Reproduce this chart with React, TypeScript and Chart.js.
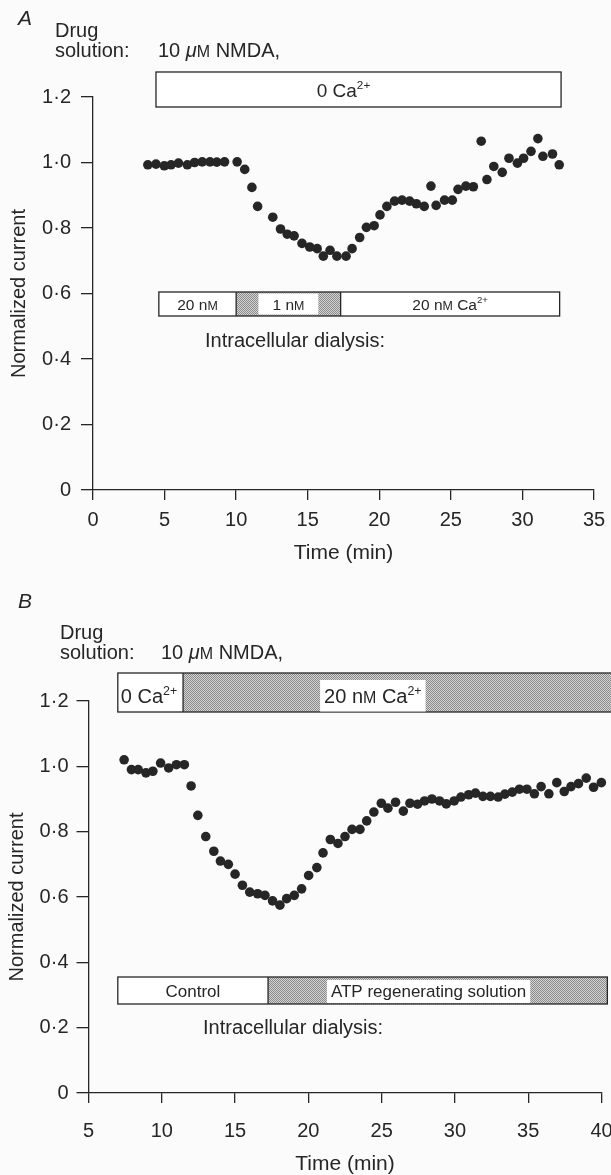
import React, { useEffect, useRef } from 'react';
import { Chart, registerables } from 'chart.js';

Chart.register(...registerables);

const FONT = '"Liberation Sans", Arial, Helvetica, sans-serif';
const INK = '#262626';
const BG = '#fbfbfb';
const W = 611;

// ---------- Panel A data ----------
const timeA = [3.83, 4.4, 4.98, 5.45, 5.97, 6.59, 7.1, 7.63, 8.17, 8.65, 9.19, 10.07, 10.6, 11.1, 11.5, 12.56, 13.1, 13.57, 14.05, 14.6, 15.14, 15.66, 16.09, 16.56, 17.04, 17.68, 18.1, 18.63, 19.1, 19.64, 20.05, 20.53, 21.07, 21.59, 22.12, 22.59, 23.14, 23.61, 23.97, 24.56, 25.1, 25.5, 26.05, 26.57, 27.12, 27.52, 28.0, 28.59, 29.06, 29.65, 30.08, 30.6, 31.08, 31.43, 32.1, 32.57];
const currentA = [0.993, 0.995, 0.99, 0.993, 0.998, 0.993, 1.0, 1.002, 1.002, 1.001, 1.002, 1.002, 0.979, 0.924, 0.866, 0.833, 0.797, 0.781, 0.776, 0.753, 0.742, 0.737, 0.714, 0.732, 0.714, 0.714, 0.737, 0.771, 0.802, 0.807, 0.84, 0.866, 0.882, 0.885, 0.882, 0.874, 0.866, 0.928, 0.869, 0.885, 0.885, 0.918, 0.928, 0.926, 1.065, 0.948, 0.988, 0.97, 1.013, 0.998, 1.013, 1.034, 1.073, 1.019, 1.026, 0.993];
const xTicksA = [0, 5, 10, 15, 20, 25, 30, 35];

// ---------- Panel B data ----------
const timeB = [7.43, 7.93, 8.39, 8.92, 9.39, 9.92, 10.47, 11.0, 11.54, 12.0, 12.46, 13.0, 13.55, 14.0, 14.54, 15.0, 15.5, 16.0, 16.54, 17.04, 17.56, 18.06, 18.52, 19.04, 19.54, 20.02, 20.58, 21.0, 21.5, 22.02, 22.5, 22.98, 23.52, 23.98, 24.47, 24.98, 25.43, 25.95, 26.48, 26.93, 27.45, 27.93, 28.43, 28.95, 29.41, 29.95, 30.41, 30.94, 31.4, 31.91, 32.42, 32.95, 33.41, 33.91, 34.4, 34.91, 35.42, 35.88, 36.41, 36.95, 37.46, 37.92, 38.43, 38.96, 39.46, 39.99];
const currentB = [1.02, 0.99, 0.99, 0.98, 0.985, 1.01, 0.995, 1.005, 1.005, 0.94, 0.85, 0.785, 0.74, 0.71, 0.70, 0.67, 0.636, 0.615, 0.61, 0.605, 0.588, 0.575, 0.595, 0.605, 0.625, 0.666, 0.69, 0.735, 0.776, 0.764, 0.785, 0.807, 0.807, 0.833, 0.86, 0.887, 0.872, 0.89, 0.863, 0.887, 0.884, 0.894, 0.90, 0.894, 0.885, 0.894, 0.906, 0.913, 0.918, 0.908, 0.908, 0.906, 0.915, 0.921, 0.93, 0.93, 0.916, 0.938, 0.916, 0.95, 0.923, 0.938, 0.947, 0.964, 0.936, 0.95];
const xTicksB = [5, 10, 15, 20, 25, 30, 35, 40];

// ---------- shared y axis ----------
const yTicks = [0, 0.2, 0.4, 0.6, 0.8, 1.0, 1.2];
const yTickLabels = ['0', '0·2', '0·4', '0·6', '0·8', '1·0', '1·2'];

// ---------- solution periods (min) ----------
const drugA = [{ from: 4.4, to: 32.7 }];
const dialysisA = [{ from: 4.6, to: 10 }, { from: 10, to: 17.3 }, { from: 17.3, to: 32.6 }];
const drugB = [{ from: 7.0, to: 11.45 }, { from: 11.45, to: 42 }];
const dialysisB = [{ from: 7.0, to: 17.25 }, { from: 17.25, to: 40.4 }];

type Run = { t: string; sup?: boolean; sc?: boolean; it?: boolean };
const T = (t: string): Run => ({ t });
const SUP = (t: string): Run => ({ t, sup: true });
const SC = (t: string): Run => ({ t, sc: true });
const IT = (t: string): Run => ({ t, it: true });

const L_NMDA: Run[] = [T('10 '), IT('μ'), SC('M'), T(' NMDA,')];
const L_0CA: Run[] = [T('0 Ca'), SUP('2+')];
const L_20NM: Run[] = [T('20 n'), SC('M')];
const L_1NM: Run[] = [T('1 n'), SC('M')];
const L_20NMCA: Run[] = [T('20 n'), SC('M'), T(' Ca'), SUP('2+')];

function runFont(r: Run, size: number, italicAll: boolean) {
  const s = r.sup ? size * 0.62 : r.sc ? size * 0.8 : size;
  return `${r.it || italicAll ? 'italic ' : ''}${s}px ${FONT}`;
}
function measureRuns(ctx: CanvasRenderingContext2D, runs: Run[], size: number, italicAll = false) {
  let w = 0;
  for (const r of runs) {
    ctx.font = runFont(r, size, italicAll);
    w += ctx.measureText(r.t).width;
  }
  return w;
}
function drawRuns(ctx: CanvasRenderingContext2D, runs: Run[], x: number, y: number, size: number, italicAll = false) {
  ctx.textAlign = 'left';
  ctx.textBaseline = 'alphabetic';
  ctx.fillStyle = INK;
  let cx = x;
  for (const r of runs) {
    ctx.font = runFont(r, size, italicAll);
    ctx.fillText(r.t, cx, y + (r.sup ? -size * 0.4 : 0));
    cx += ctx.measureText(r.t).width;
  }
}

type Seg = { from: number; to: number; stipple?: boolean; label?: Run[]; at?: number; align?: 'left' | 'center'; padX?: number };
type Box = { y0: number; y1: number; size: number; baseline: number; bgTop: number; bgBottom: number; segs: Seg[] };
type TextItem = { runs: Run[]; x: number; y: number; size: number; italic?: boolean };

let patternCache: CanvasPattern | null = null;
function stipple(ctx: CanvasRenderingContext2D) {
  if (patternCache) return patternCache;
  const c = document.createElement('canvas');
  c.width = 2; c.height = 2;
  const g = c.getContext('2d')!;
  g.fillStyle = '#d4d4d4';
  g.fillRect(0, 0, 2, 2);
  g.fillStyle = '#8a8a8a';
  g.fillRect(0, 0, 1, 1);
  g.fillRect(1, 1, 1, 1);
  patternCache = ctx.createPattern(c, 'repeat');
  return patternCache!;
}

function drawBox(ctx: CanvasRenderingContext2D, xs: any, box: Box) {
  const px = (v: number) => xs.getPixelForValue(v);
  const { y0, y1 } = box;
  for (const s of box.segs) {
    const x0 = px(s.from), x1 = px(s.to);
    ctx.fillStyle = s.stipple ? stipple(ctx) : '#ffffff';
    ctx.fillRect(x0, y0, x1 - x0, y1 - y0);
  }
  ctx.strokeStyle = INK;
  ctx.lineWidth = 1.3;
  const a = px(box.segs[0].from), b = px(box.segs[box.segs.length - 1].to);
  ctx.strokeRect(a, y0, b - a, y1 - y0);
  for (let i = 1; i < box.segs.length; i++) {
    const x = px(box.segs[i].from);
    ctx.beginPath(); ctx.moveTo(x, y0); ctx.lineTo(x, y1); ctx.stroke();
  }
  for (const s of box.segs) {
    if (!s.label) continue;
    const x0 = px(s.from), x1 = px(s.to);
    const w = measureRuns(ctx, s.label, box.size);
    const cx = s.at !== undefined ? px(s.at) : (x0 + x1) / 2;
    const left = s.align === 'left' ? x0 + 3 : cx - w / 2;
    if (s.stipple) {
      const p = s.padX ?? 4;
      ctx.fillStyle = '#ffffff';
      ctx.fillRect(left - p, box.bgTop, w + 2 * p, box.bgBottom - box.bgTop);
    }
    drawRuns(ctx, s.label, left, box.baseline, box.size);
  }
}

type PanelCfg = {
  top: number; height: number;
  area: { left: number; right: number; top: number; bottom: number };
  xMin: number; xMax: number; xTicks: number[];
  times: number[]; values: number[];
  xTickPad: number; xTitlePad: number; yTickPad: number; yTitlePad: number;
  texts: TextItem[]; boxes: Box[];
};

const panelA: PanelCfg = {
  top: 0, height: 580,
  area: { left: 93, right: 594, top: 97, bottom: 490 },
  xMin: 0, xMax: 35, xTicks: xTicksA,
  times: timeA, values: currentA,
  xTickPad: 10, xTitlePad: 16, yTickPad: 10, yTitlePad: 9,
  texts: [
    { runs: [T('A')], x: 18, y: 25, size: 21, italic: true },
    { runs: [T('Drug')], x: 55, y: 37, size: 20 },
    { runs: [T('solution:')], x: 55, y: 57, size: 20 },
    { runs: L_NMDA, x: 158, y: 57, size: 20 },
    { runs: [T('Intracellular dialysis:')], x: 205, y: 347, size: 20 },
  ],
  boxes: [
    { y0: 72, y1: 107, size: 19, baseline: 97, bgTop: 73, bgBottom: 106,
      segs: [{ ...drugA[0], label: L_0CA, at: 17.5 }] },
    { y0: 292, y1: 316, size: 15.5, baseline: 309.5, bgTop: 293.5, bgBottom: 314.5,
      segs: [
        { ...dialysisA[0], label: L_20NM },
        { ...dialysisA[1], stipple: true, label: L_1NM, padX: 14 },
        { ...dialysisA[2], label: L_20NMCA },
      ] },
  ],
};

const panelB: PanelCfg = {
  top: 580, height: 595,
  area: { left: 88.5, right: 601.5, top: 121, bottom: 513 },
  xMin: 5, xMax: 40, xTicks: xTicksB,
  times: timeB, values: currentB,
  xTickPad: 18, xTitlePad: 0, yTickPad: 8, yTitlePad: 7,
  texts: [
    { runs: [T('B')], x: 18, y: 28, size: 21, italic: true },
    { runs: [T('Drug')], x: 60, y: 59, size: 20 },
    { runs: [T('solution:')], x: 60, y: 79, size: 20 },
    { runs: L_NMDA, x: 161, y: 79, size: 20 },
    { runs: [T('Intracellular dialysis:')], x: 203, y: 454, size: 20 },
  ],
  boxes: [
    { y0: 93, y1: 132, size: 20, baseline: 123, bgTop: 100, bgBottom: 131.5,
      segs: [
        { ...drugB[0], label: L_0CA, align: 'left' },
        { ...drugB[1], stipple: true, label: L_20NMCA, at: 24.4, padX: 4 },
      ] },
    { y0: 397, y1: 424, size: 17, baseline: 416.5, bgTop: 400, bgBottom: 423,
      segs: [
        { ...dialysisB[0], label: [T('Control')] },
        { ...dialysisB[1], stipple: true, label: [T('ATP regenerating solution')], at: 28.2, padX: 4 },
      ] },
  ],
};

function makePlugin(cfg: PanelCfg) {
  return {
    id: 'annot',
    beforeDraw(chart: any) {
      const ctx = chart.ctx as CanvasRenderingContext2D;
      ctx.save();
      ctx.fillStyle = BG;
      ctx.fillRect(0, 0, chart.width, chart.height);
      ctx.restore();
    },
    afterDraw(chart: any) {
      const ctx = chart.ctx as CanvasRenderingContext2D;
      ctx.save();
      for (const t of cfg.texts) drawRuns(ctx, t.runs, t.x, t.y, t.size, !!t.italic);
      for (const b of cfg.boxes) drawBox(ctx, chart.scales.x, b);
      ctx.restore();
    },
  };
}

function Panel({ cfg }: { cfg: PanelCfg }) {
  const ref = useRef<HTMLCanvasElement>(null);
  useEffect(() => {
    const a = cfg.area;
    const chart = new Chart(ref.current!, {
      type: 'scatter',
      data: {
        datasets: [{
          data: cfg.times.map((t, i) => ({ x: t, y: cfg.values[i] })),
          pointRadius: 4.8,
          pointHoverRadius: 4.8,
          pointBackgroundColor: INK,
          pointBorderWidth: 0,
          showLine: false,
          clip: false as any,
        }],
      },
      options: {
        animation: false,
        responsive: false,
        maintainAspectRatio: false,
        events: [],
        layout: { padding: { left: 0, top: a.top, right: W - a.right, bottom: 0 } },
        plugins: { legend: { display: false }, tooltip: { enabled: false }, title: { display: false } },
        scales: {
          x: {
            type: 'linear', position: 'bottom', min: cfg.xMin, max: cfg.xMax,
            afterBuildTicks: (s: any) => { s.ticks = cfg.xTicks.map((v) => ({ value: v })); },
            afterFit: (s: any) => { s.height = cfg.height - a.bottom; s.paddingLeft = 0; s.paddingRight = 0; },
            ticks: { color: INK, font: { family: FONT, size: 20, lineHeight: 1 }, padding: cfg.xTickPad, maxRotation: 0, autoSkip: false, callback: (v: any) => String(v) },
            grid: { display: true, drawOnChartArea: false, drawTicks: true, tickLength: 10, color: INK, lineWidth: 1.3 },
            border: { display: true, color: INK, width: 1.3 },
            title: { display: true, text: 'Time (min)', color: INK, font: { family: FONT, size: 21, lineHeight: 1 }, padding: { top: 0, bottom: cfg.xTitlePad } },
          },
          y: {
            type: 'linear', position: 'left', min: 0, max: 1.2,
            afterBuildTicks: (s: any) => { s.ticks = yTicks.map((v) => ({ value: v })); },
            afterFit: (s: any) => { s.width = a.left; s.paddingTop = 0; s.paddingBottom = 0; },
            ticks: { color: INK, font: { family: FONT, size: 20, lineHeight: 1 }, padding: cfg.yTickPad, autoSkip: false, callback: (_v: any, i: number) => yTickLabels[i] },
            grid: { display: true, drawOnChartArea: false, drawTicks: true, tickLength: 12, color: INK, lineWidth: 1.3 },
            border: { display: true, color: INK, width: 1.3 },
            title: { display: true, text: 'Normalized current', color: INK, font: { family: FONT, size: 20, lineHeight: 1 }, padding: { top: cfg.yTitlePad, bottom: 0 } },
          },
        },
      } as any,
      plugins: [makePlugin(cfg)],
    });
    return () => chart.destroy();
  }, [cfg]);
  return (
    <div style={{ position: 'absolute', left: 0, top: cfg.top, width: W, height: cfg.height }}>
      <canvas ref={ref} width={W} height={cfg.height} style={{ width: W, height: cfg.height, display: 'block' }} />
    </div>
  );
}

export default function App() {
  return (
    <div style={{ position: 'absolute', left: 0, top: 0, width: W, height: 1175, background: BG, overflow: 'hidden' }}>
      <Panel cfg={panelA} />
      <Panel cfg={panelB} />
    </div>
  );
}
